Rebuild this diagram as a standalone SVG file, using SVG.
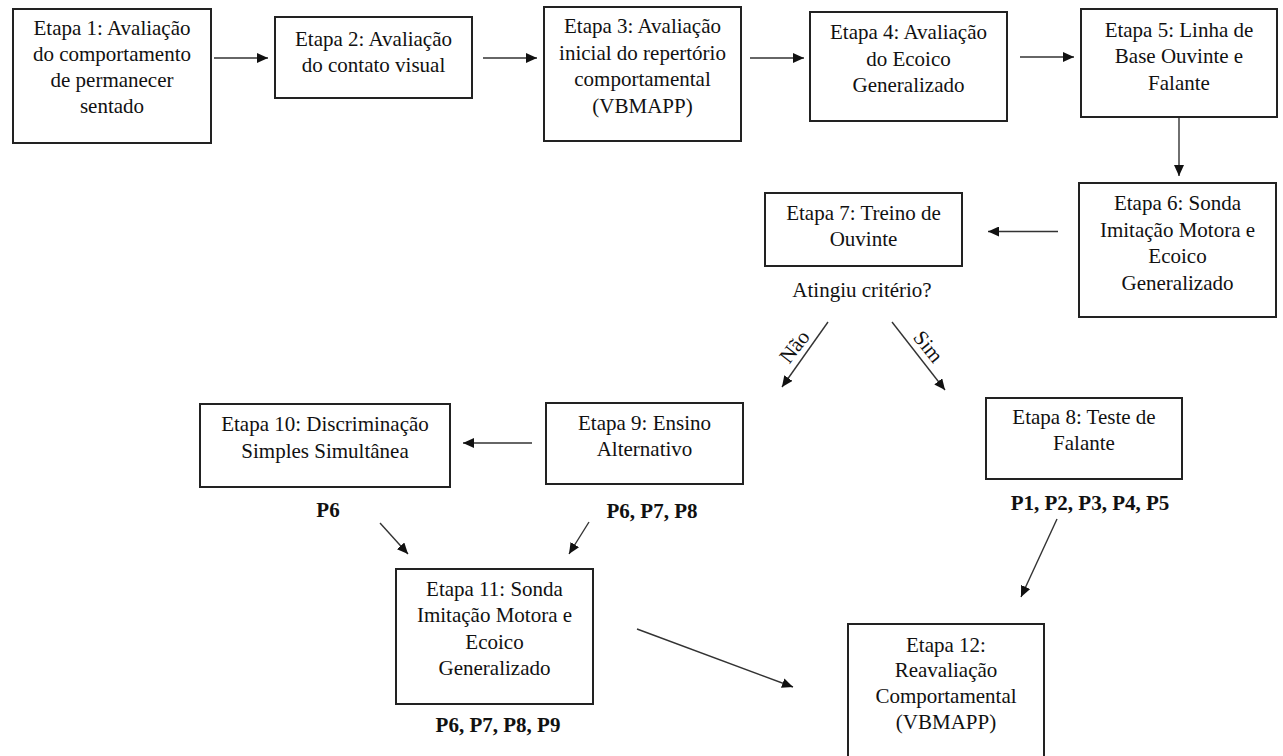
<svg xmlns="http://www.w3.org/2000/svg" width="1283" height="756" viewBox="0 0 1283 756">
<style>
.box{fill:#fff;stroke:#222;stroke-width:2}
.t{font-family:"Liberation Serif","Times New Roman",serif;font-size:21px;fill:#111;text-anchor:middle}
.b{font-weight:bold}
.c{stroke:#333;stroke-width:1.4;fill:none;marker-end:url(#ah)}
</style>
<defs>
<marker id="ah" markerUnits="userSpaceOnUse" markerWidth="12" markerHeight="10" refX="11" refY="5" orient="auto">
<path d="M0,0 L11,5 L0,10 Z" fill="#111"/>
</marker>
</defs>
<rect width="1283" height="756" fill="#fff"/>
<g id="connectors">
<line class="c" x1="214" y1="58" x2="268" y2="58"/>
<line class="c" x1="483" y1="58" x2="537" y2="58"/>
<line class="c" x1="750" y1="58" x2="804" y2="58"/>
<line class="c" x1="1020" y1="57" x2="1074" y2="57"/>
<line class="c" x1="1179" y1="117" x2="1179" y2="176"/>
<line class="c" x1="1058" y1="231.5" x2="988" y2="231.5"/>
<line class="c" x1="828" y1="322" x2="782" y2="387"/>
<line class="c" x1="892" y1="322" x2="945" y2="390"/>
<line class="c" x1="532" y1="443" x2="463" y2="443"/>
<line class="c" x1="380" y1="523" x2="408" y2="554"/>
<line class="c" x1="589" y1="522" x2="569" y2="554"/>
<line class="c" x1="1057" y1="519" x2="1021" y2="597"/>
<line class="c" x1="637" y1="629" x2="793" y2="687"/>
<text class="t" transform="translate(800,351) rotate(-52)">Não</text>
<text class="t" transform="translate(923,351) rotate(51)">Sim</text>
</g>
<g id="n1"><rect class="box" x="13" y="9" width="198" height="134"/>
<text class="t" x="112" y="35">Etapa 1: Avaliação</text><text class="t" x="112" y="61">do comportamento</text><text class="t" x="112" y="87">de permanecer</text><text class="t" x="112" y="113">sentado</text></g>
<g id="n2"><rect class="box" x="275" y="17" width="197" height="81"/>
<text class="t" x="373.5" y="46">Etapa 2: Avaliação</text><text class="t" x="373.5" y="72">do contato visual</text></g>
<g id="n3"><rect class="box" x="544" y="7" width="197" height="134"/>
<text class="t" x="642.5" y="33">Etapa 3: Avaliação</text><text class="t" x="642.5" y="60">inicial do repertório</text><text class="t" x="642.5" y="86">comportamental</text><text class="t" x="642.5" y="113">(VBMAPP)</text></g>
<g id="n4"><rect class="box" x="810" y="12" width="197" height="109"/>
<text class="t" x="908.5" y="39">Etapa 4: Avaliação</text><text class="t" x="908.5" y="66">do Ecoico</text><text class="t" x="908.5" y="92">Generalizado</text></g>
<g id="n5"><rect class="box" x="1081" y="9" width="196" height="108"/>
<text class="t" x="1179" y="37">Etapa 5: Linha de</text><text class="t" x="1179" y="63">Base Ouvinte e</text><text class="t" x="1179" y="90">Falante</text></g>
<g id="n6"><rect class="box" x="1079" y="183" width="197" height="134"/>
<text class="t" x="1177.5" y="210">Etapa 6: Sonda</text><text class="t" x="1177.5" y="237">Imitação Motora e</text><text class="t" x="1177.5" y="263">Ecoico</text><text class="t" x="1177.5" y="290">Generalizado</text></g>
<g id="n7"><rect class="box" x="765" y="193" width="197" height="73"/>
<text class="t" x="863.5" y="220">Etapa 7: Treino de</text><text class="t" x="863.5" y="246">Ouvinte</text>
<text class="t" x="862" y="297">Atingiu critério?</text></g>
<g id="n8"><rect class="box" x="986" y="398" width="196" height="81"/>
<text class="t" x="1084" y="424">Etapa 8: Teste de</text><text class="t" x="1084" y="450">Falante</text>
<text class="t b" x="1090" y="510">P1, P2, P3, P4, P5</text></g>
<g id="n9"><rect class="box" x="546" y="403" width="197" height="81"/>
<text class="t" x="644.5" y="430">Etapa 9: Ensino</text><text class="t" x="644.5" y="456">Alternativo</text>
<text class="t b" x="652" y="518">P6, P7, P8</text></g>
<g id="n10"><rect class="box" x="200" y="404" width="250" height="83"/>
<text class="t" x="325" y="431">Etapa 10: Discriminação</text><text class="t" x="325" y="458">Simples Simultânea</text>
<text class="t b" x="328" y="517">P6</text></g>
<g id="n11"><rect class="box" x="396" y="569" width="197" height="135"/>
<text class="t" x="494.5" y="596">Etapa 11: Sonda</text><text class="t" x="494.5" y="622">Imitação Motora e</text><text class="t" x="494.5" y="649">Ecoico</text><text class="t" x="494.5" y="675">Generalizado</text>
<text class="t b" x="498" y="732">P6, P7, P8, P9</text></g>
<g id="n12"><rect class="box" x="848" y="624" width="196" height="140"/>
<text class="t" x="946" y="652">Etapa 12:</text><text class="t" x="946" y="677">Reavaliação</text><text class="t" x="946" y="703">Comportamental</text><text class="t" x="946" y="729">(VBMAPP)</text></g>
</svg>
